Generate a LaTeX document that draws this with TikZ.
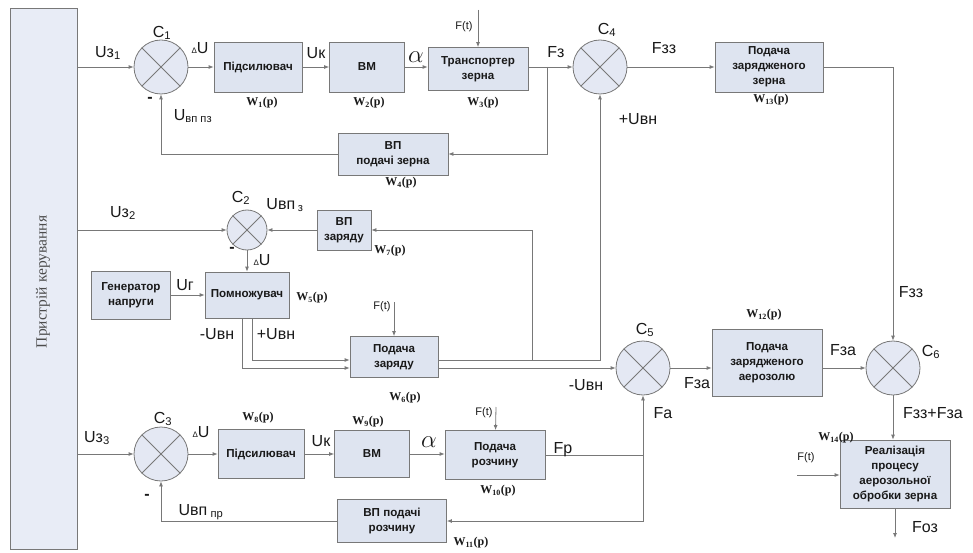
\documentclass[tikz,border=0pt]{standalone}
\usepackage{fontspec}
\setmainfont{Liberation Serif}
\newfontfamily\arial{Liberation Sans}
\usetikzlibrary{arrows.meta}
\definecolor{linegray}{RGB}{120,120,120}
\definecolor{boxfill}{RGB}{222,228,240}
\definecolor{circfill}{RGB}{228,232,243}
\definecolor{pkfill}{RGB}{232,236,246}
\definecolor{txtdark}{RGB}{25,25,25}

\begin{document}
\begin{tikzpicture}[x=1pt, y=-1pt,
    blok/.style={draw=linegray, line width=0.8pt, fill=boxfill, inner sep=0pt, align=center,
                 text=txtdark, font=\arial\bfseries\fontsize{11.6}{15}\selectfont},
    summ/.style={circle, draw=linegray, line width=0.8pt, fill=circfill, inner sep=0pt},
    gline/.style={draw=linegray, line width=0.8pt},
    arr/.style={gline, -{Latex[length=5pt,width=4pt]}},
    sig/.style={text=txtdark, inner sep=0pt, font=\arial\fontsize{16}{18}\selectfont},
    alfa/.style={text=txtdark, inner sep=0pt, font=\fontsize{27}{27}\selectfont},
    wlab/.style={text=txtdark, inner sep=0pt, font=\bfseries\fontsize{12}{14}\selectfont},
    ftlab/.style={text=txtdark, inner sep=0pt, font=\arial\fontsize{11}{12}\selectfont}]
  \fill[white] (0,0) rectangle (973,553);
  \useasboundingbox (0,0) rectangle (973,553);
  % Control device
  \node[draw=linegray, line width=0.8pt, fill=pkfill, minimum width=67, minimum height=541,
        inner sep=0pt] (pk) at (43.5,278.5) {};
  \node[rotate=90, text=black!70, font=\fontsize{15.5}{17}\selectfont] (pkt) at (43,282) {Пристрій керування};
  % Summators C1..C6
  \foreach \n/\x/\y/\d in {1/161/67/54, 2/247/230/40, 3/161/454/54, 4/600/67/54, 5/643/368/54, 6/893/368/54}{
    \node[summ, minimum size=\d] (c\n) at (\x,\y) {};
    \draw[gline] (c\n.north west) -- (c\n.south east) (c\n.north east) -- (c\n.south west);
  }
  \foreach \n/\x/\y in {1/162/33, 2/241/198, 3/163/419, 4/607/30, 5/645/330, 6/931/352}{
    \node[sig] (lc\n) at (\x,\y) {C\textsubscript{\n}};
  }
  % Blocks
  \node[blok, minimum width=88, minimum height=50] (pid1) at (258,67) {Підсилювач};
  \node[blok, minimum width=75, minimum height=50] (vm1) at (367,67) {ВМ};
  \node[blok, minimum width=100, minimum height=43] (tr) at (478,69) {Транспортер\\зерна};
  \node[blok, minimum width=110, minimum height=42] (vpz) at (393,154) {ВП\\подачі зерна};
  \node[blok, minimum width=108, minimum height=50] (pzz) at (769,67) {Подача\\зарядженого\\зерна};
  \node[blok, minimum width=54, minimum height=40] (vpzar) at (344,230) {ВП\\заряду};
  \node[blok, minimum width=79, minimum height=48] (gen) at (131,295) {Генератор\\напруги};
  \node[blok, minimum width=84, minimum height=46] (pom) at (247,295) {Помножувач};
  \node[blok, minimum width=88, minimum height=41] (pzar) at (394,357) {Подача\\заряду};
  \node[blok, minimum width=110, minimum height=67] (pza) at (767,363) {Подача\\зарядженого\\аерозолю};
  \node[blok, minimum width=86, minimum height=49] (pid2) at (261,454) {Підсилювач};
  \node[blok, minimum width=75, minimum height=47] (vm2) at (372,454) {ВМ};
  \node[blok, minimum width=100, minimum height=49] (pr) at (495,455) {Подача\\розчину};
  \node[blok, minimum width=109, minimum height=43] (vpr) at (392,521) {ВП подачі\\розчину};
  \node[blok, minimum width=110, minimum height=68] (real) at (895,474) {Реалізація\\процесу\\аерозольної\\обробки зерна};
  % Transfer functions
  \foreach \n/\x/\y in {1/262/103, 2/369/103, 3/483/103, 4/401/183, 5/312/298, 6/405/398, 7/390/251,
                        8/258/418, 9/368/422, 10/498/491, 11/471/543, 12/764/315, 13/771/100, 14/836/438}{
    \node[wlab] (w\n) at (\x,\y) {W\textsubscript{\n}(p)};
  }
  % Corner points
  \coordinate (j1) at (547,67);
  \coordinate (kr) at (893,67);
  \coordinate (kp) at (252,360);
  \coordinate (km) at (242,368);
  \coordinate (ku) at (600,360);
  \coordinate (kb) at (532,360);
  \coordinate (j3) at (643,455);
  \coordinate (ft1) at (478,10);
  \coordinate (ft2) at (394,302);
  \coordinate (ft3) at (496,407);
  \coordinate (ft4) at (797,475);
  \coordinate (fout) at (895,538);
  % Grain loop
  \draw[arr] (pk.east |- c1) -- (c1);
  \draw[arr] (c1) -- (pid1);
  \draw[arr] (pid1) -- (vm1);
  \draw[arr] (vm1) -- (vm1 -| tr.west);
  \draw[arr] (c4 -| tr.east) -- (c4);
  \draw[arr] (j1) |- (vpz);
  \draw[arr] (vpz) -| (c1);
  \draw[arr] (ft1) -- (tr);
  \draw[arr] (c4) -- (pzz);
  \draw[arr] (pzz) -- (kr) -- (c6);
  % Charge loop
  \draw[arr] (pk.east |- c2) -- (c2);
  \draw[arr] (vpzar) -- (c2);
  \draw[arr] (c2) -- (pom);
  \draw[arr] (gen) -- (pom);
  \draw[arr] (pom.south -| kp) -- (kp) -- (kp -| pzar.west);
  \draw[arr] (pom.south -| km) -- (km) -- (km -| pzar.west);
  \draw[arr] (ft2) -- (pzar);
  \draw[arr] (pzar.east |- kp) -- (ku) -- (c4);
  \draw[arr] (kb) |- (vpzar);
  \draw[arr] (pzar.east |- km) -- (c5);
  % Solution loop
  \draw[arr] (pk.east |- c3) -- (c3);
  \draw[arr] (c3) -- (pid2);
  \draw[arr] (pid2) -- (vm2);
  \draw[arr] (vm2) -- (vm2 -| pr.west);
  \draw[arr] (ft3) -- (pr);
  \draw[arr] (pr.east |- j3) -- (j3) -- (c5);
  \draw[arr] (j3) |- (vpr);
  \draw[arr] (vpr) -| (c3);
  % Aerosol and output
  \draw[arr] (c5.east) -- (c5.east -| pza.west);
  \draw[arr] (c5.east -| pza.east) -- (c6);
  \draw[arr] (c6) -- (c6 |- real.north);
  \draw[arr] (ft4) -- (ft4 -| real.west);
  \draw[arr] (real.south -| fout) -- (fout);
  % Signal labels
  \node[sig] (luz1) at (108,53) {Uз\textsubscript{1}};
  \node[sig] (ldu1) at (200,48) {{\fontsize{8}{8}\selectfont Δ}U};
  \node[sig] (luk1) at (316,53) {Uк};
  \node[alfa] (lal1) at (416,57) {$\alpha$};
  \node[sig] (lfz) at (556,52) {Fз};
  \node[sig] (lfzz1) at (664,48) {Fзз};
  \node[sig] (lpuvn1) at (638,119) {+Uвн};
  \node[sig] (luvppz) at (193,116) {U\textsubscript{вп пз}};
  \node[sig] (lmin1) at (150,100) {\textbf{-}};
  \node[ftlab] (lft1) at (464,27) {F(t)};
  \node[sig] (luz2) at (123,213) {Uз\textsubscript{2}};
  \node[sig] (luvpz) at (285,205) {Uвп\,\textsubscript{з}};
  \node[sig] (lmin2) at (232,250) {\textbf{-}};
  \node[sig] (ldu2) at (262,260) {{\fontsize{8}{8}\selectfont Δ}U};
  \node[sig] (lug) at (185,285) {Uг};
  \node[sig] (lmuvn1) at (217,334) {-Uвн};
  \node[sig] (lpuvn2) at (276,334) {+Uвн};
  \node[ftlab] (lft2) at (382,307) {F(t)};
  \node[sig] (lmuvn2) at (586,385) {-Uвн};
  \node[sig] (lfza1) at (697,383) {Fза};
  \node[sig] (lfza2) at (843,350) {Fза};
  \node[sig] (lfzz2) at (911,292) {Fзз};
  \node[sig] (luz3) at (97,438) {Uз\textsubscript{3}};
  \node[sig] (ldu3) at (201,432) {{\fontsize{8}{8}\selectfont Δ}U};
  \node[sig] (luk2) at (321,441) {Uк};
  \node[alfa] (lal2) at (429,442) {$\alpha$};
  \node[ftlab] (lft3) at (484,413) {F(t)};
  \node[sig] (lfr) at (563,450) {Fр};
  \node[sig] (lfa) at (663,413) {Fа};
  \node[sig] (luvppr) at (201,512) {Uвп\textsubscript{ пр}};
  \node[sig] (lmin3) at (147,497) {\textbf{-}};
  \node[sig] (lsum) at (933,413) {Fзз+Fза};
  \node[ftlab] (lft4) at (806,458) {F(t)};
  \node[sig] (lfoz) at (925,527) {Fоз};
\end{tikzpicture}
\end{document}
